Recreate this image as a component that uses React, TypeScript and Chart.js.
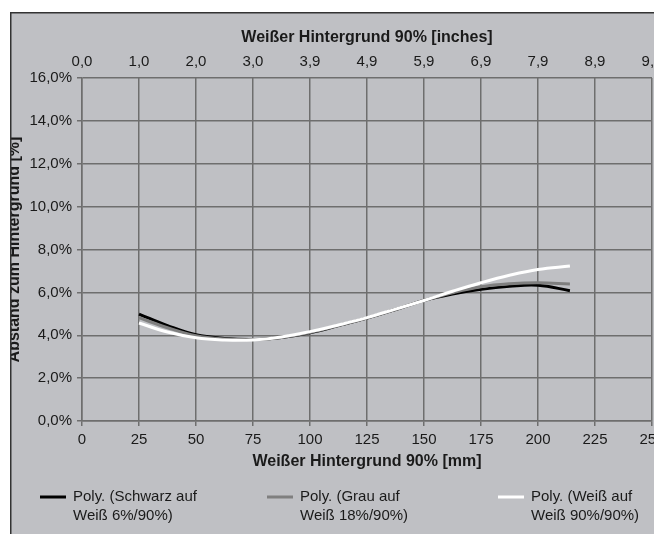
import React, { useEffect, useRef } from "react";
import { Chart, registerables } from "chart.js";

Chart.register(...registerables);

// Positions along the sheet in mm
const mmPositions = [25, 37.5, 50, 62.5, 75, 87.5, 100, 112.5, 125, 137.5, 150, 162.5, 175, 187.5, 200, 214];
// Distance to background [%]
const blackValues = [4.99, 4.45, 4.02, 3.85, 3.8, 3.9, 4.12, 4.45, 4.8, 5.2, 5.62, 5.92, 6.14, 6.28, 6.33, 6.08];
const grayValues = [4.82, 4.35, 3.98, 3.83, 3.8, 3.9, 4.13, 4.45, 4.8, 5.2, 5.62, 5.98, 6.26, 6.4, 6.45, 6.39];
const whiteValues = [4.57, 4.15, 3.88, 3.78, 3.78, 3.92, 4.17, 4.48, 4.82, 5.22, 5.62, 6.05, 6.45, 6.8, 7.07, 7.23];

const seriesLabels = [
  ["Poly. (Schwarz auf", "Weiß 6%/90%)"],
  ["Poly. (Grau auf", "Weiß 18%/90%)"],
  ["Poly. (Weiß auf", "Weiß 90%/90%)"],
];
const inchTickLabels = ["0,0", "1,0", "2,0", "3,0", "3,9", "4,9", "5,9", "6,9", "7,9", "8,9", "9,8"];
const xTitleBottom = "Weißer Hintergrund 90% [mm]";
const xTitleTop = "Weißer Hintergrund 90% [inches]";
const yTitle = "Abstand zum Hintergrund [%]";

const FONT = "'Liberation Sans', Arial, Helvetica, sans-serif";
const TEXT = "#1a1a1a";
const GRID = "#6e6e6e";
const BG = "#bfc0c4";

const toPts = (vals: number[]) => vals.map((v, i) => ({ x: mmPositions[i], y: v }));

const decorPlugin = {
  id: "decor",
  beforeDraw(chart: any) {
    const { ctx, width, height } = chart;
    ctx.save();
    ctx.fillStyle = BG;
    ctx.fillRect(0, 0, width, height);
    ctx.restore();
  },
  afterDraw(chart: any) {
    const { ctx, width, height } = chart;
    ctx.save();
    // outer border (top and left visible)
    ctx.strokeStyle = "#333";
    ctx.lineWidth = 1.5;
    ctx.beginPath();
    ctx.moveTo(0.75, height);
    ctx.lineTo(0.75, 0.75);
    ctx.lineTo(width, 0.75);
    ctx.stroke();
    // legend
    const starts = [30, 257, 488];
    const y1 = 485;
    const y2 = 504;
    ctx.font = `15px ${FONT}`;
    ctx.textBaseline = "middle";
    ctx.textAlign = "left";
    chart.data.datasets.forEach((ds: any, i: number) => {
      const x = starts[i];
      ctx.strokeStyle = ds.borderColor;
      ctx.lineWidth = 3;
      ctx.beginPath();
      ctx.moveTo(x, y1);
      ctx.lineTo(x + 26, y1);
      ctx.stroke();
      ctx.fillStyle = TEXT;
      const lbl = seriesLabels[i];
      ctx.fillText(lbl[0], x + 33, y1);
      ctx.fillText(lbl[1], x + 33, y2);
    });
    ctx.restore();
  },
};

export default function App() {
  const ref = useRef<HTMLCanvasElement>(null);
  useEffect(() => {
    if (!ref.current) return;
    Chart.defaults.font.family = FONT;
    Chart.defaults.color = TEXT;
    const chart = new Chart(ref.current, {
      type: "line",
      data: {
        datasets: [
          { label: seriesLabels[0].join(" "), data: toPts(blackValues), borderColor: "#000000", order: 2 },
          { label: seriesLabels[1].join(" "), data: toPts(grayValues), borderColor: "#7f7f7f", order: 1 },
          { label: seriesLabels[2].join(" "), data: toPts(whiteValues), borderColor: "#ffffff", order: 0 },
        ].map((d) => ({ ...d, borderWidth: 3, pointRadius: 0, tension: 0.4, fill: false })),
      },
      options: {
        responsive: false,
        animation: false,
        layout: { padding: { left: 0, top: 0, right: 38, bottom: 63 } },
        plugins: { legend: { display: false }, tooltip: { enabled: false } },
        scales: {
          x: {
            type: "linear",
            position: "bottom",
            min: 0,
            max: 250,
            ticks: { stepSize: 25, padding: 5, font: { size: 15 }, color: TEXT, maxRotation: 0 },
            grid: { color: GRID, lineWidth: 1.5, tickLength: 5 },
            border: { color: GRID, width: 1.5 },
            title: { display: true, text: xTitleBottom, font: { size: 16, weight: "bold" }, color: TEXT, padding: { top: 0, bottom: 0 } },
            afterFit: (s: any) => { s.height = 50; },
          },
          x2: {
            type: "linear",
            position: "top",
            min: 0,
            max: 250,
            ticks: {
              stepSize: 25,
              padding: 7,
              font: { size: 15 },
              color: TEXT,
              maxRotation: 0,
              callback: (_v: any, i: number) => inchTickLabels[i],
            },
            grid: { display: false, drawTicks: false },
            border: { display: false },
            title: { display: true, text: xTitleTop, font: { size: 16, weight: "bold" }, color: TEXT, padding: { top: 16, bottom: 0 } },
            afterFit: (s: any) => { s.height = 66; },
          },
          y: {
            min: 0,
            max: 16,
            ticks: {
              stepSize: 2,
              padding: 5,
              font: { size: 15 },
              color: TEXT,
              callback: (v: any) => Number(v).toFixed(1).replace(".", ",") + "%",
            },
            grid: { color: GRID, lineWidth: 1.5, tickLength: 5 },
            border: { color: GRID, width: 1.5 },
            title: { display: true, text: yTitle, font: { size: 16, weight: "bold" }, color: TEXT, padding: { top: -5, bottom: 0 } },
            afterFit: (s: any) => { s.width = 72; },
          },
        },
      },
      plugins: [decorPlugin],
    } as any);
    return () => chart.destroy();
  }, []);

  return (
    <div style={{ position: "absolute", left: 10, top: 12, width: 644, height: 522, overflow: "hidden" }}>
      <canvas ref={ref} width={680} height={522} style={{ display: "block" }} />
    </div>
  );
}
